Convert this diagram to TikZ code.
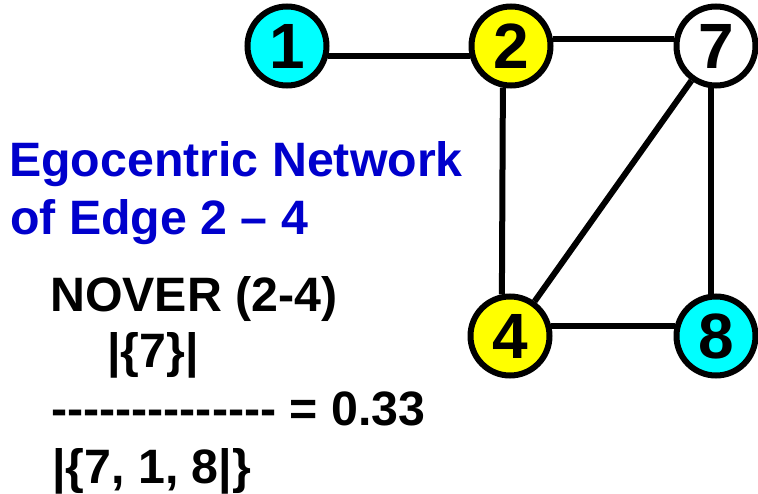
\documentclass[tikz,border=0pt]{standalone}
\usepackage{fontspec}
\setmainfont{Liberation Sans}
\definecolor{egoblue}{RGB}{0,0,204}
\definecolor{nodecyan}{RGB}{0,255,255}
\definecolor{nodeyellow}{RGB}{255,255,0}
\newcommand\hy{\hbox{-}}
\begin{document}
\begin{tikzpicture}[x=1pt,y=-1pt,
  vertex/.style={circle,draw=black,line width=6pt,minimum size=79pt,inner sep=0pt,
    font=\fontsize{64}{64}\selectfont\bfseries},
  edge/.style={line width=6pt,draw=black},
  txt/.style={anchor=base west,inner sep=0pt,font=\fontsize{48.3}{57}\selectfont\bfseries},
  title/.style={txt,text=egoblue}]
\useasboundingbox (0,0) rectangle (758,494);
% nodes
\node[vertex,fill=nodecyan]   (n1) at (287,46)  {1};
\node[vertex,fill=nodeyellow] (n2) at (511,46)  {2};
\node[vertex,fill=white]      (n7) at (716,46)  {7};
\node[vertex,fill=nodeyellow] (n4) at (510,336) {4};
\node[vertex,fill=nodecyan]   (n8) at (716,336) {8};
% edges
\draw[edge] (n1.-13) -- (n2.193);
\draw[edge] (n2.10) -- (n7.170);
\draw[edge] (n2.-101) -- (n4.101);
\draw[edge] (n7.-97) -- (n8.97);
\draw[edge] (n7) -- (n4);
\draw[edge] (n4.13) -- (n8.167);
% texts
\node[title] (t1) at (9,177) {Egocentric Network};
\node[title] (t2) at (10,235) {of Edge 2 – 4};
\node[txt] (t3) at (50,312) {NOVER (2-4)};
\node[txt] (t4) at (107,368) {|\{7\}|};
\node[txt] (t5) at (51,425) {\hy\hy\hy\hy\hy\hy\hy\hy\hy\hy\hy\hy\hy\hy{} = 0.33};
\node[txt] (t6) at (52,483) {|\{7, 1, 8|\}};
\end{tikzpicture}
\end{document}
